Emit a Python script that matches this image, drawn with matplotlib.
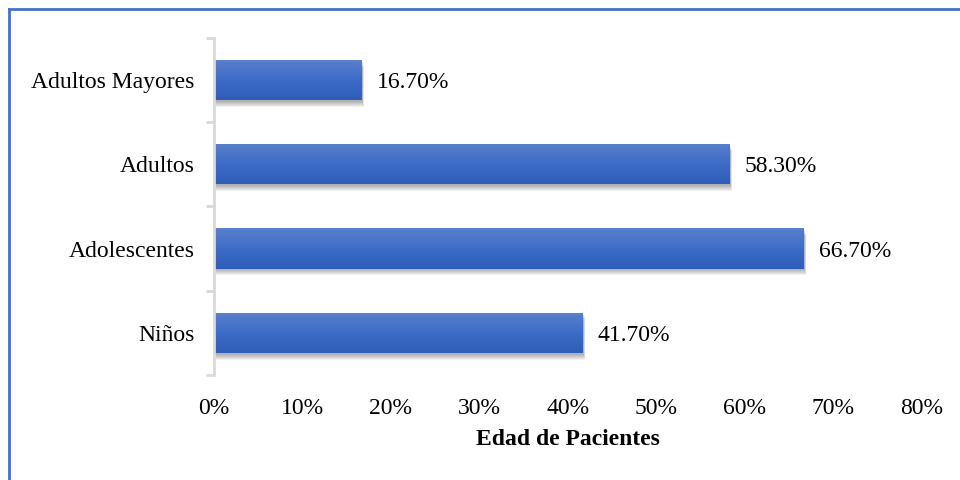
import matplotlib
matplotlib.use("Agg")
import matplotlib.pyplot as plt
from matplotlib.patches import Rectangle
from matplotlib.lines import Line2D
import numpy as np

plt.rcParams['font.family'] = ['Liberation Serif', 'DejaVu Serif']

categorias = ['Niños', 'Adolescentes', 'Adultos', 'Adultos Mayores']
porcentajes = [41.7, 66.7, 58.3, 16.7]
etiquetas = ['41.70%', '66.70%', '58.30%', '16.70%']
ticks_x = [0, 10, 20, 30, 40, 50, 60, 70, 80]

fig = plt.figure(figsize=(9.6, 4.8), dpi=100)
ax = fig.add_axes([0.223, 0.219, 0.737, 0.702])

alto = 0.48
y = np.arange(len(categorias))

# gradiente vertical: claro arriba, oscuro abajo
grad = np.linspace(0, 1, 64).reshape(-1, 1)
cmap = matplotlib.colors.LinearSegmentedColormap.from_list('azul', ['#5B80CC', '#3D6CC8', '#2F5DB8'])

for yi, v, txt in zip(y, porcentajes, etiquetas):
    # sombra difusa: varias capas con desplazamiento
    for k in range(6):
        dx = 0.1 + 0.03 * k
        dy = 0.02 + 0.012 * k
        ax.add_patch(Rectangle((dx, yi - alto / 2 - dy), v, alto,
                               facecolor='#000000', alpha=0.055, edgecolor='none', zorder=1))
    barra = Rectangle((0, yi - alto / 2), v, alto, facecolor='none', edgecolor='none', zorder=2)
    ax.add_patch(barra)
    im = ax.imshow(grad, cmap=cmap, aspect='auto', extent=(0, v, yi - alto / 2, yi + alto / 2),
                   origin='upper', zorder=2)
    im.set_clip_path(barra)
    ax.text(v + 1.7, yi - 0.03, txt, va='center', ha='left', fontsize=17, color='#000000')

ax.set_xlim(0, 80)
ax.set_ylim(-0.5, len(categorias) - 0.5)
ax.set_xticks(ticks_x)
ax.set_xticklabels([f'{t}%' for t in ticks_x], fontsize=17)
ax.set_yticks(y)
ax.set_yticklabels(categorias, fontsize=17)
ax.tick_params(axis='x', length=0, pad=17)
ax.tick_params(axis='y', length=0, pad=14)

# marcas menores en los límites de categoría
ax.set_yticks(np.arange(-0.5, len(categorias)), minor=True)
ax.tick_params(axis='y', which='minor', length=6, width=2, color='#D9D9D9')

for s in ['top', 'right', 'bottom']:
    ax.spines[s].set_visible(False)
ax.spines['left'].set_color('#D9D9D9')
ax.spines['left'].set_linewidth(2)

ax.set_xlabel('Edad de Pacientes', fontsize=17, fontweight='bold', labelpad=7)

# borde azul del cuadro
fig.add_artist(Line2D([9 / 960, 1.0], [1 - 9 / 480, 1 - 9 / 480], color='#4472C4', lw=2,
                      transform=fig.transFigure))
fig.add_artist(Line2D([9 / 960, 9 / 960], [0, 1 - 9 / 480], color='#4472C4', lw=2,
                      transform=fig.transFigure))

fig.savefig('out.png', dpi=100)
